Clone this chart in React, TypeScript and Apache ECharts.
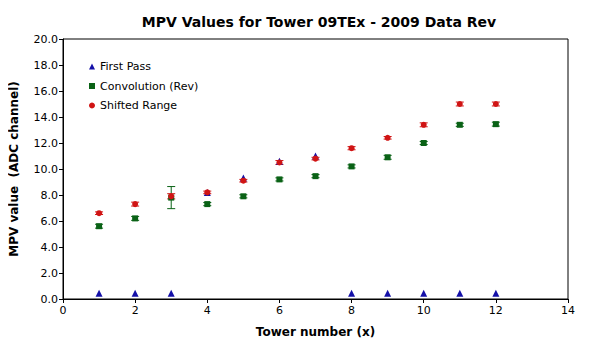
import React, { useEffect, useRef } from "react";
import * as echarts from "echarts";

const towers = [1, 2, 3, 4, 5, 6, 7, 8, 9, 10, 11, 12];
const firstPass = [0.45, 0.45, 0.45, 8.2, 9.3, 10.6, 11.0, 0.45, 0.45, 0.45, 0.45, 0.45];
const convolution = [5.6, 6.2, 7.8, 7.3, 7.9, 9.2, 9.45, 10.2, 10.9, 12.0, 13.4, 13.45];
const convolutionErr = [0.15, 0.15, 0.85, 0.12, 0.12, 0.12, 0.12, 0.12, 0.15, 0.12, 0.12, 0.15];
const shifted = [6.6, 7.3, 7.9, 8.2, 9.1, 10.5, 10.8, 11.6, 12.4, 13.4, 15.0, 15.0];
const shiftedErr = [0.1, 0.15, 0.2, 0.1, 0.1, 0.15, 0.1, 0.12, 0.1, 0.15, 0.15, 0.15];
const xTicks = [0, 2, 4, 6, 8, 10, 12, 14];

const BLUE = "#1410a8";
const GREEN = "#0a6216";
const RED = "#d01414";
const FONT = "DejaVu Sans, Verdana, sans-serif";

function errSeries(vals: number[], errs: number[], color: string) {
  return {
    type: "custom",
    silent: true,
    z: 1,
    data: towers.map((x, i) => [x, vals[i] - errs[i], vals[i] + errs[i]]),
    renderItem: (params: any, api: any) => {
      const x = api.value(0);
      const lo = api.coord([x, api.value(1)]);
      const hi = api.coord([x, api.value(2)]);
      const hw = 4;
      const st = { stroke: color, lineWidth: 1 };
      return {
        type: "group",
        children: [
          { type: "line", shape: { x1: lo[0], y1: lo[1], x2: hi[0], y2: hi[1] }, style: st },
          { type: "line", shape: { x1: lo[0] - hw, y1: lo[1], x2: lo[0] + hw, y2: lo[1] }, style: st },
          { type: "line", shape: { x1: hi[0] - hw, y1: hi[1], x2: hi[0] + hw, y2: hi[1] }, style: st },
        ],
      };
    },
  };
}

export default function App() {
  const ref = useRef<HTMLDivElement>(null);
  useEffect(() => {
    const chart = echarts.init(ref.current!, undefined, { renderer: "svg" });
    chart.setOption({
      animation: false,
      backgroundColor: "#fff",
      textStyle: { fontFamily: FONT },
      title: {
        text: "MPV Values for Tower 09TEx - 2009 Data Rev",
        left: 314,
        top: 10,
        textAlign: "center",
        textStyle: { fontFamily: FONT, fontSize: 14, fontWeight: "bold", color: "#000" },
      },
      legend: {
        orient: "vertical",
        left: 84,
        top: 56,
        itemGap: 8.5,
        itemWidth: 6,
        itemHeight: 6,
        data: [
          { name: "First Pass", icon: "triangle" },
          { name: "Convolution (Rev)", icon: "rect" },
          { name: "Shifted Range", icon: "circle" },
        ],
        textStyle: { fontFamily: FONT, fontSize: 11, color: "#000", padding: [0, 0, 0, 0] },
      },
      grid: {
        left: 60,
        right: 23,
        top: 39,
        bottom: 51,
        show: true,
        borderColor: "#000",
        borderWidth: 1,
      },
      xAxis: {
        type: "value",
        min: 0,
        max: 14,
        interval: 2,
        name: "Tower number (x)",
        nameLocation: "middle",
        nameGap: 27,
        nameTextStyle: { fontFamily: FONT, fontSize: 12, fontWeight: "bold", color: "#000" },
        axisLine: { show: true, lineStyle: { color: "#000" } },
        axisTick: { show: true, length: 4, lineStyle: { color: "#000" } },
        axisLabel: {
          fontFamily: FONT,
          fontSize: 11,
          color: "#000",
          margin: 6,
          formatter: (v: number) => (xTicks.includes(v) ? String(v) : ""),
        },
        splitLine: { show: false },
      },
      yAxis: {
        type: "value",
        min: 0,
        max: 20,
        interval: 2,
        name: "MPV value  (ADC channel)",
        nameLocation: "middle",
        nameGap: 43,
        nameTextStyle: { fontFamily: FONT, fontSize: 12, fontWeight: "bold", color: "#000" },
        axisLine: { show: true, lineStyle: { color: "#000" } },
        axisTick: { show: true, length: 4, lineStyle: { color: "#000" } },
        axisLabel: {
          fontFamily: FONT,
          fontSize: 11,
          color: "#000",
          margin: 5,
          formatter: (v: number) => v.toFixed(1),
        },
        splitLine: { show: false },
      },
      series: [
        {
          name: "First Pass",
          type: "scatter",
          symbol: "triangle",
          symbolSize: 7,
          itemStyle: { color: BLUE, opacity: 1 },
          z: 2,
          data: towers.map((x, i) => [x, firstPass[i]]),
        },
        errSeries(convolution, convolutionErr, GREEN),
        {
          name: "Convolution (Rev)",
          type: "scatter",
          symbol: "rect",
          symbolSize: 6,
          itemStyle: { color: GREEN, opacity: 1 },
          z: 3,
          data: towers.map((x, i) => [x, convolution[i]]),
        },
        errSeries(shifted, shiftedErr, RED),
        {
          name: "Shifted Range",
          type: "scatter",
          symbol: "circle",
          symbolSize: 6,
          itemStyle: { color: RED, opacity: 1 },
          z: 4,
          data: towers.map((x, i) => [x, shifted[i]]),
        },
      ],
    });
    return () => chart.dispose();
  }, []);
  return <div ref={ref} style={{ width: 591, height: 350, margin: -8 }} />;
}
